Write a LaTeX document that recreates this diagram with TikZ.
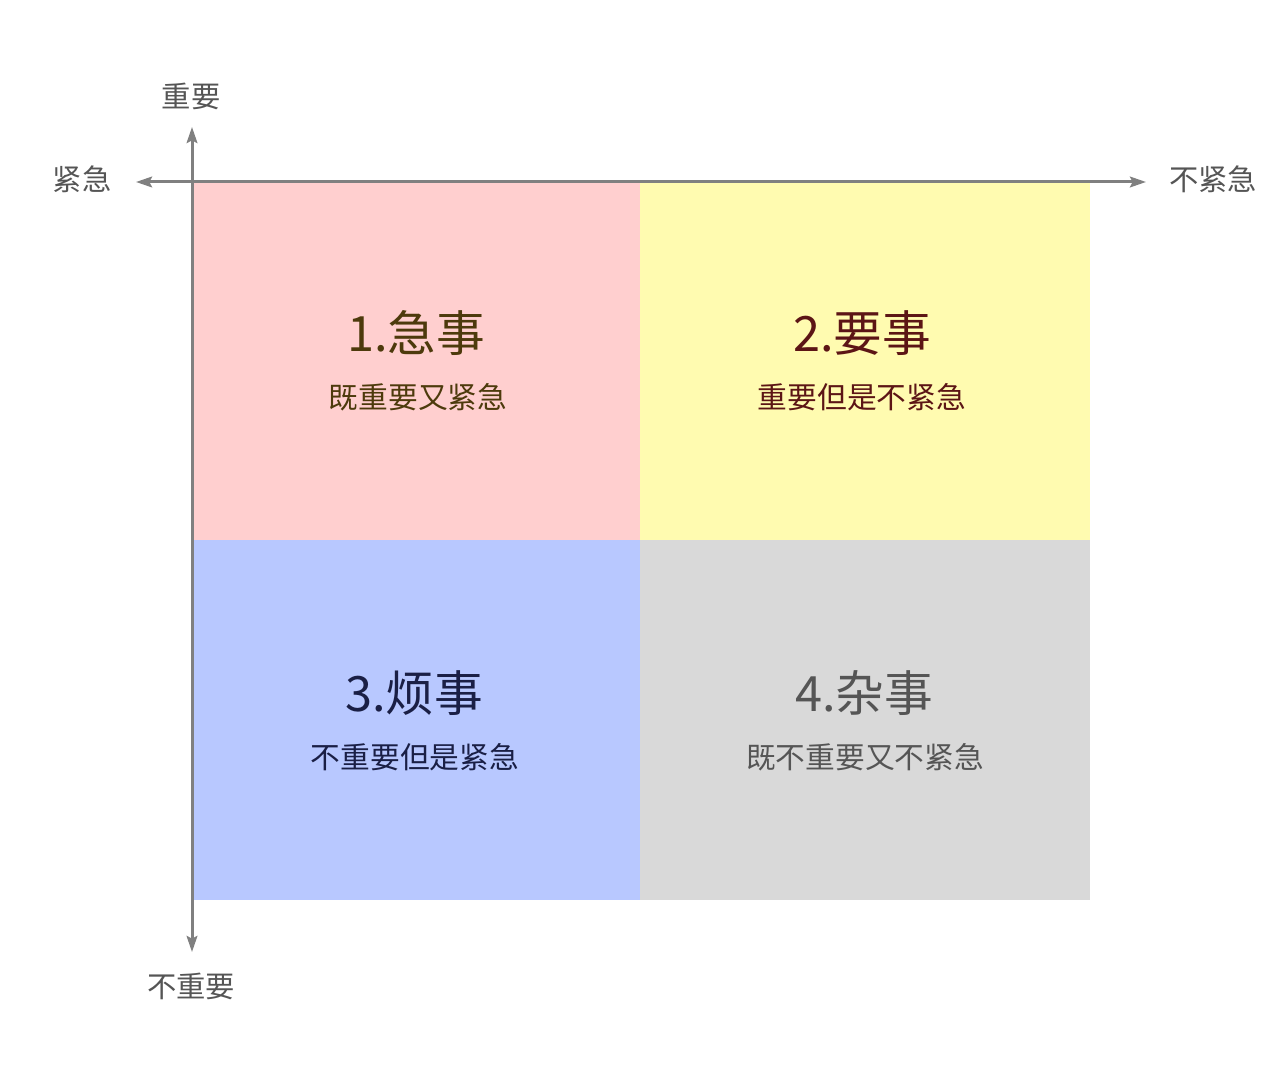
\documentclass[tikz,border=0pt]{standalone}
\usepackage{fontspec}
\setmainfont{Noto Sans CJK SC}
\usetikzlibrary{arrows.meta}
\definecolor{axisgray}{HTML}{808080}
\definecolor{labelgray}{HTML}{555555}
\definecolor{qpink}{HTML}{FFCFCF}
\definecolor{qyellow}{HTML}{FFFBB0}
\definecolor{qblue}{HTML}{B8C8FF}
\definecolor{qgray}{HTML}{D9D9D9}
\definecolor{tone}{HTML}{4D3A0C}
\definecolor{ttwo}{HTML}{5C1515}
\definecolor{tthree}{HTML}{1A1F45}
\definecolor{tfour}{HTML}{555555}
\tikzset{
  quad/.style={draw=none, inner sep=0pt, outer sep=0pt},
  qtitle/.style={font=\fontsize{36.5}{40}\selectfont, inner sep=0pt},
  qsub/.style={font=\fontsize{22.3}{25}\selectfont, inner sep=0pt},
  axlabel/.style={font=\fontsize{22}{25}\selectfont, text=labelgray, inner sep=0pt},
  axis/.style={draw=axisgray, line width=2.25pt, {Stealth[length=12pt,width=8pt,inset=2pt]}-{Stealth[length=12pt,width=8pt,inset=2pt]}}
}
\begin{document}
\begin{tikzpicture}[x=0.75pt,y=-0.75pt]
\useasboundingbox[fill=white] (0,0) rectangle (1280,1080);
% quadrants
\node[quad, fill=qpink, anchor=north west, minimum width=336pt, minimum height=268.5pt] (q1) at (192,182) {};
\node[quad, fill=qyellow, anchor=north west, minimum width=337.5pt, minimum height=268.5pt] (q2) at (640,182) {};
\node[quad, fill=qblue, anchor=north west, minimum width=336pt, minimum height=270pt] (q3) at (192,540) {};
\node[quad, fill=qgray, anchor=north west, minimum width=337.5pt, minimum height=270pt] (q4) at (640,540) {};
% texts
\node[qtitle, text=tone] (t1) at (416,333) {1.急事};
\node[qsub, text=tone] (s1) at (418,397) {既重要又紧急};
\node[qtitle, text=ttwo] (t2) at (862,333) {2.要事};
\node[qsub, text=ttwo] (s2) at (862,397) {重要但是不紧急};
\node[qtitle, text=tthree] (t3) at (414,693) {3.烦事};
\node[qsub, text=tthree] (s3) at (415,757) {不重要但是紧急};
\node[qtitle, text=tfour] (t4) at (864,693) {4.杂事};
\node[qsub, text=tfour] (s4) at (865,757) {既不重要又不紧急};
% axes
\coordinate (vtop) at (192,127);
\coordinate (vbot) at (192,952);
\coordinate (hleft) at (136,182);
\coordinate (hright) at (1146,182);
\draw[axis] (hleft) -- (hright);
\draw[axis] (vbot) -- (vtop);
% axis labels
\node[axlabel] (lup) at (191,96) {重要};
\node[axlabel] (ldown) at (191,986) {不重要};
\node[axlabel] (lleft) at (82,179) {紧急};
\node[axlabel] (lright) at (1213,179) {不紧急};
\end{tikzpicture}
\end{document}
